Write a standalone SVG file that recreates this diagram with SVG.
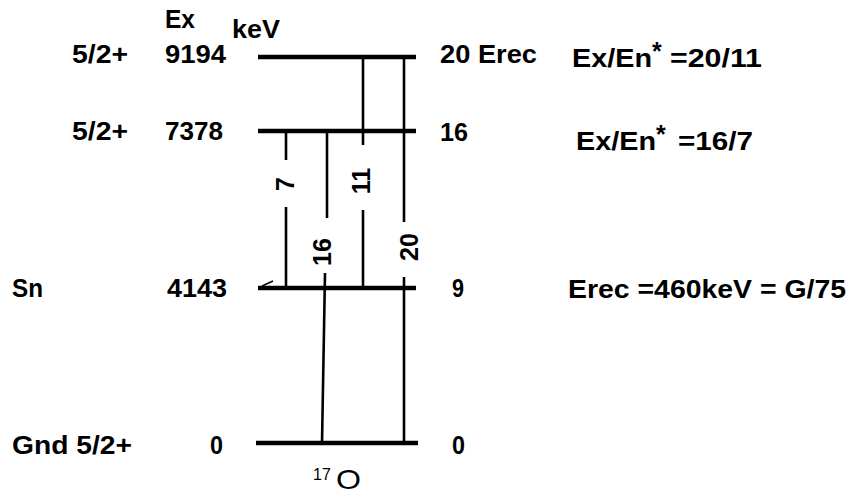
<svg xmlns="http://www.w3.org/2000/svg" width="850" height="495" viewBox="0 0 850 495">
<style>
text { font-family: "Liberation Sans", Arial, sans-serif; fill: #000; }
.b { font-weight: bold; font-size: 25px; }
.r { font-size: 25px; font-weight: bold; }
.lvl { stroke: #000; stroke-width: 4.5; fill: none; }
.tr { stroke: #000; stroke-width: 2.6; fill: none; }
</style>
<rect width="850" height="495" fill="#fff"/>
<g id="header">
<text class="b" x="165" y="28" textLength="30" lengthAdjust="spacingAndGlyphs">Ex</text>
<text class="b" x="232" y="38" textLength="48" lengthAdjust="spacingAndGlyphs">keV</text>
</g>
<g id="level-9194">
<line class="lvl" x1="258" y1="57" x2="416" y2="57" stroke-width="5.5"/>
<text class="b" x="72" y="63" textLength="56" lengthAdjust="spacingAndGlyphs">5/2+</text>
<text class="b" x="165" y="63" textLength="61" lengthAdjust="spacingAndGlyphs">9194</text>
<text class="b" x="440" y="63" textLength="97" lengthAdjust="spacingAndGlyphs">20 Erec</text>
</g>
<g id="level-7378">
<line class="lvl" x1="258" y1="131" x2="416" y2="131"/>
<text class="b" x="72" y="140" textLength="56" lengthAdjust="spacingAndGlyphs">5/2+</text>
<text class="b" x="165" y="140" textLength="58" lengthAdjust="spacingAndGlyphs">7378</text>
<text class="b" x="440" y="141" textLength="28" lengthAdjust="spacingAndGlyphs">16</text>
</g>
<g id="level-4143">
<line class="lvl" x1="258" y1="288" x2="416" y2="288"/>
<line stroke="#000" stroke-width="1.5" x1="262" y1="286" x2="273" y2="281"/>
<text class="b" x="12" y="297" textLength="31" lengthAdjust="spacingAndGlyphs">Sn</text>
<text class="b" x="167" y="297" textLength="60" lengthAdjust="spacingAndGlyphs">4143</text>
<text class="b" x="452" y="297" textLength="12" lengthAdjust="spacingAndGlyphs">9</text>
</g>
<g id="level-0">
<line class="lvl" x1="256" y1="443" x2="418" y2="443" stroke-width="5.5"/>
<text class="b" x="12" y="454" textLength="120" lengthAdjust="spacingAndGlyphs">Gnd 5/2+</text>
<text class="b" x="210" y="454" textLength="13" lengthAdjust="spacingAndGlyphs">0</text>
<text class="b" x="452" y="454" textLength="13" lengthAdjust="spacingAndGlyphs">0</text>
<text x="313" y="480" font-size="16">17</text>
<text x="336" y="489" font-size="28" textLength="25" lengthAdjust="spacingAndGlyphs">O</text>
</g>
<g id="notes">
<text class="b" x="572" y="67" textLength="80" lengthAdjust="spacingAndGlyphs">Ex/En</text>
<text class="b" x="652" y="60" font-size="28">*</text>
<text class="b" x="670" y="67" textLength="92" lengthAdjust="spacingAndGlyphs">=20/11</text>
<text class="b" x="576" y="150" textLength="80" lengthAdjust="spacingAndGlyphs">Ex/En</text>
<text class="b" x="656" y="143" font-size="28">*</text>
<text class="b" x="678" y="150" textLength="75" lengthAdjust="spacingAndGlyphs">=16/7</text>
<text class="b" x="568" y="298" textLength="278" lengthAdjust="spacingAndGlyphs">Erec =460keV = G/75</text>
</g>
<g id="connectors">
<line class="tr" x1="286" y1="131" x2="286" y2="160"/>
<line class="tr" x1="286" y1="207" x2="286" y2="288"/>
<line class="tr" x1="327" y1="131" x2="327" y2="218"/>
<line class="tr" x1="325" y1="273" x2="322" y2="443"/>
<line class="tr" x1="363" y1="57" x2="363" y2="145"/>
<line class="tr" x1="363" y1="210" x2="363" y2="288"/>
<line class="tr" x1="404" y1="57" x2="404" y2="222"/>
<line class="tr" x1="404" y1="277" x2="404" y2="443"/>
<text class="r" transform="translate(294,184) rotate(-90)" text-anchor="middle">7</text>
<text class="r" transform="translate(370,181) rotate(-90)" text-anchor="middle">11</text>
<text class="r" transform="translate(331,252) rotate(-90)" text-anchor="middle">16</text>
<text class="r" transform="translate(418,247) rotate(-90)" text-anchor="middle">20</text>
</g>
</svg>
